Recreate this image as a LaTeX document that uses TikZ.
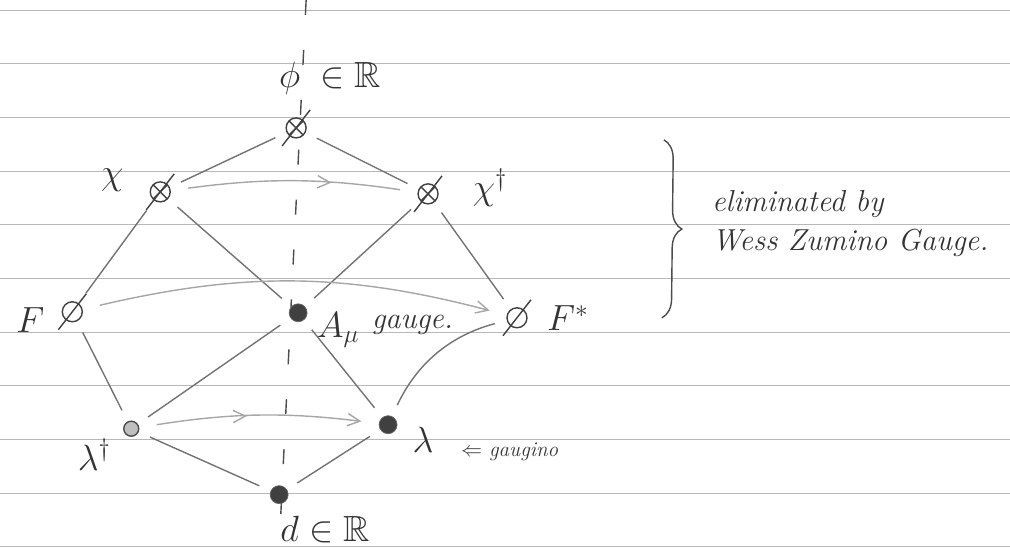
\documentclass[tikz,border=0pt]{standalone}
\usepackage{amsmath}
\usepackage{amssymb}
\usepackage{xcolor}
\usepackage{tikz}
\usetikzlibrary{arrows.meta, positioning, decorations.pathreplacing, decorations.markings, calc}

\begin{document}
\begin{tikzpicture}[x=0.2mm, y=-0.2mm, >={Straight Barb[length=7pt, width=7pt]},
    every node/.style={font=\huge, text=black!80},
    rule/.style={draw=black!28, line width=0.4pt},
    axis/.style={draw=black!70, thick, dash pattern=on 3mm off 7mm},
    struck/.style={circle, draw=black!75, thick, minimum size=4mm, inner sep=0pt},
    crossed/.style={struck, path picture={\draw[black!75, thick] (path picture bounding box.north west) -- (path picture bounding box.south east)
        (path picture bounding box.south west) -- (path picture bounding box.north east);}},
    field/.style={circle, draw=black!60, fill=black!75, minimum size=3.6mm, inner sep=0pt},
    ghost/.style={circle, draw=black!70, thick, fill=black!25, minimum size=3mm, inner sep=0pt},
    link/.style={draw=black!55, thick, shorten <=7pt, shorten >=7pt},
    flow/.style={draw=black!35, thick, shorten <=10pt, shorten >=10pt},
    midflow/.style={flow, postaction=decorate, decoration={markings, mark=at position #1 with {\arrow{>}}}},
    midflow/.default=0.6,
    brace/.style={draw=black!70, thick, decorate, decoration={brace, amplitude=3.8mm}},
]
% Ruled paper
\foreach \i in {0,...,10}
  \draw[rule] (0,{10+53.7*\i}) -- (1010,{10+53.7*\i});
\useasboundingbox (0,0) rectangle (1010,548);

% Axis
\coordinate (axtop) at (306,0);
\coordinate (axbot) at (279,548);
\draw[axis] (axtop) -- (axbot);

% Fields
\node[crossed] (phi) at (296,128) {};
\node[crossed] (chi) at (160,192) {};
\node[crossed] (chib) at (428,194) {};
\node[struck] (F) at (72,312) {};
\node[field] (A) at (298,313) {};
\node[struck] (Fb) at (517,318) {};
\node[ghost] (lamb) at (131,429) {};
\node[field] (lam) at (388,425) {};
\node[field] (d) at (279,495) {};

% Slashes
\foreach \n in {phi,chi,chib,F,Fb}
  \draw[black!75, thick] ([shift={(-14,18)}]\n.center) -- ([shift={(14,-18)}]\n.center);

% Labels
\node (philab) at (330,78) {$\phi\;\in\mathbb{R}$};
\node (chilab) at (112,180) {$\chi$};
\node (chiblab) at (490,188) {$\chi^\dagger$};
\node (Flab) at (30,320) {$F$};
\node (Fblab) at (568,318) {$F^*$};
\node (Alab) at (338,330) {$A_\mu$};
\node[right=0mm of Alab.east, yshift=1mm, font=\LARGE\itshape] (gauge) {gauge.};
\node (lamblab) at (94,455) {$\lambda^\dagger$};
\node (lamlab) at (423,440) {$\lambda$};
\node[anchor=west, font=\large] (gaugino) at (455,452) {$\Leftarrow$ \itshape gaugino};
\node (dlab) at (325,530) {$d\in\mathbb{R}$};

% Edges
\draw[link] (phi) -- (chi);
\draw[link] (phi) -- (chib);
\draw[link] (chi) -- (F);
\draw[link] (chi) -- (A);
\draw[link] (chib) -- (A);
\draw[link] (chib) -- (Fb);
\draw[link] (F) -- (lamb);
\draw[link] (A) -- (lamb);
\draw[link] (A) -- (lam);
\draw[link] (Fb) to[bend right=25] (lam);
\draw[link] (lamb) -- (d);
\draw[link] (lam) -- (d);

% Conjugation
\draw[midflow=0.65] (chi) to[bend left=8] (chib);
\draw[flow, ->] (F) to[bend left=14] (Fb);
\draw[midflow=0.45, ->] (lamb) to[bend left=8] (lam);

% Wess-Zumino
\coordinate (bt) at (664,140);
\coordinate (bb) at (662,318);
\draw[brace] (bt) -- (bb);
\node[anchor=west, align=left, font=\LARGE\itshape] (wz) at (706,224) {eliminated by\\Wess Zumino Gauge.};

\end{tikzpicture}
\end{document}
